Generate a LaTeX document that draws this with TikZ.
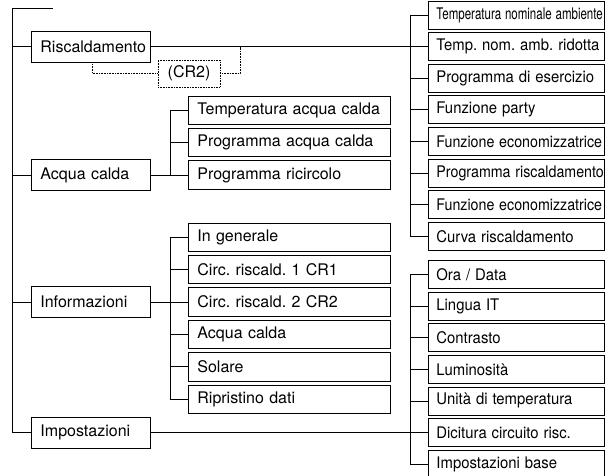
\documentclass[tikz,border=0pt]{standalone}
\usepackage{fontspec}
\setmainfont{TeX Gyre Heros}
\tikzset{
  menubox/.style={draw,anchor=west,minimum height=31pt,minimum width=119pt,text width=101pt,inner xsep=9pt,align=left},
  subbox/.style={draw,anchor=west,minimum height=28.5pt,minimum width=202pt,text width=184pt,inner xsep=9pt,align=left},
  setbox/.style={draw,anchor=west,minimum height=28pt,minimum width=175.5pt,text width=159.5pt,inner xsep=8pt,align=left},
  optbox/.style={draw,densely dotted,line width=0.6pt,minimum height=27pt,minimum width=62pt},
  optline/.style={densely dotted,line width=0.6pt}
}
\begin{document}
\frenchspacing
\begin{tikzpicture}[x=1pt,y=-1pt,line width=0.8pt,every node/.style={font=\fontsize{16}{18}\selectfont}]
\pgfmathsetmacro{\kxsub}{188}
\pgfmathsetmacro{\kxset}{428}
\pgfmathsetmacro{\kstep}{32.4}
\pgfmathsetmacro{\kpitch}{31.6}
\clip (0,0) rectangle (605,476);
\useasboundingbox (0,0) rectangle (605,476);
% main menu
\coordinate (ktop) at (12,8);
\coordinate (ktopend) at (53,8);
\node[menubox] (risc) at (31,46.6) {Riscaldamento};
\node[menubox] (acqua) at (31,175) {Acqua calda};
\node[menubox] (info) at (31,302) {Informazioni};
\node[menubox] (imp) at (31,432.5) {Impostazioni};
\draw (ktopend) -- (ktop) |- (imp.west);
\foreach \kn in {risc,acqua,info}{\draw (\kn.west) -- (\kn.west -| ktop);}
% heating circuit
\foreach \ky/\ksc/\xlb in {1/0.72/{Temperatura nominale ambiente},2/0.93/{Temp. nom. amb. ridotta},3/0.93/{Programma di esercizio},4/0.93/{Funzione party},5/0.89/{Funzione economizzatrice},6/0.89/{Programma riscaldamento},7/0.89/{Funzione economizzatrice},8/0.93/{Curva riscaldamento}}{\node[setbox] (r\ky) at (\kxset,15+\ky*\kpitch-\kpitch) {\scalebox{\ksc}[1]{\xlb}};}
\foreach \ky in {1,...,8}{\draw (r\ky.west) -- ++(-18,0);}
\draw (r1.west) ++(-18,0) |- (r8.west);
\draw (risc.east) -- (r2.west);
\node[optbox] (cr) at (189,73.5) {(CR2)};
\coordinate (kjoin) at (240,46.6);
\draw[optline] ([xshift=1.5pt]risc.south) |- (cr.west);
\draw[optline] (cr.east) -| (kjoin);
% hot water
\foreach \ky/\xlb in {1/{Temperatura acqua calda},2/{Programma acqua calda},3/{Programma ricircolo}}{\node[subbox] (w\ky) at (\kxsub,175+\ky*\kstep-3*\kstep) {\mbox{\xlb}};}
\foreach \ky in {1,2,3}{\draw (w\ky.west) -- ++(-18,0);}
\draw (w1.west) ++(-18,0) |- (w3.west);
\draw (acqua.east) -- (w3.west);
% information
\foreach \ky/\xlb in {1/{In generale},2/{Circ. riscald. 1 CR1},3/{Circ. riscald. 2 CR2},4/{Acqua calda},5/{Solare},6/{Ripristino dati}}{\node[subbox] (i\ky) at (\kxsub,302+\ky*\kstep-3*\kstep) {\mbox{\xlb}};}
\foreach \ky in {1,...,6}{\draw (i\ky.west) -- ++(-18,0);}
\draw (i1.west) ++(-18,0) |- (i6.west);
\draw (info.east) -- (i3.west);
% settings
\foreach \ky/\xlb in {1/{Ora / Data},2/{Lingua IT},3/{Contrasto},4/{Luminosità},5/{Unità di temperatura},6/{Dicitura circuito risc.},7/{Impostazioni base}}{\node[setbox] (s\ky) at (\kxset,274.5+\ky*\kpitch-\kpitch) {\scalebox{0.93}[1]{\xlb}};}
\foreach \ky in {1,...,7}{\draw (s\ky.west) -- ++(-18,0);}
\draw (s1.west) ++(-18,0) |- (s7.west);
\draw (imp.east) -- (s6.west);
\end{tikzpicture}
\end{document}
